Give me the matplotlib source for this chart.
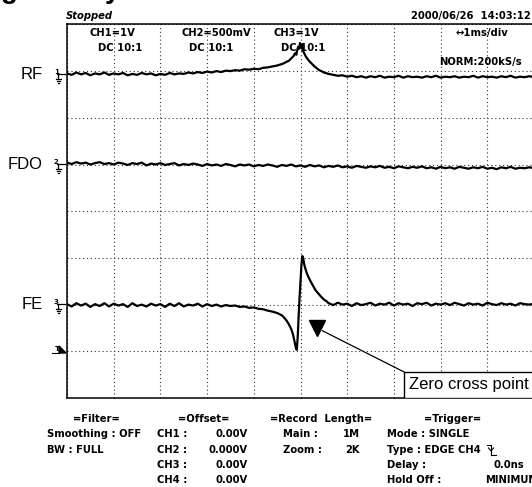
import matplotlib.pyplot as plt
from matplotlib.patches import Rectangle, Polygon
from matplotlib.lines import Line2D

# --- traces (time in ms, level in screen divisions; screen is 10 x 8 div) ---
rf_t = [0.0, 0.1, 0.2, 0.3, 0.4, 0.5, 0.6, 0.7, 0.8, 0.9,
        1.0, 1.1, 1.2, 1.3, 1.4, 1.5, 1.6, 1.7, 1.8, 1.9,
        2.0, 2.1, 2.2, 2.3, 2.4, 2.5, 2.6, 2.7, 2.8, 2.9,
        3.0, 3.1, 3.2, 3.3, 3.4, 3.5,
        3.6, 3.7, 3.8, 3.9, 4.0, 4.1, 4.2, 4.3, 4.4, 4.5, 4.6,
        4.65, 4.7, 4.75, 4.8, 4.85, 4.88, 4.91, 4.93, 4.95, 4.97, 4.99, 5.01,
        5.03, 5.05, 5.08, 5.11, 5.15, 5.2, 5.25, 5.3, 5.35, 5.4, 5.45, 5.5,
        5.6, 5.7, 5.8, 5.9, 6.0, 6.1, 6.2, 6.3, 6.4, 6.5,
        6.6, 6.7, 6.8, 6.9, 7.0, 7.1, 7.2, 7.3, 7.4, 7.5,
        7.6, 7.7, 7.8, 7.9, 8.0, 8.1, 8.2, 8.3, 8.4, 8.5,
        8.6, 8.7, 8.8, 8.9, 9.0, 9.1, 9.2, 9.3, 9.4, 9.5,
        9.6, 9.7, 9.8, 9.9, 10.0]
rf_v = [6.95, 6.92, 6.97, 6.93, 6.96, 6.91, 6.95, 6.93, 6.97, 6.92,
        6.95, 6.93, 6.96, 6.91, 6.94, 6.92, 6.96, 6.93, 6.95, 6.91,
        6.94, 6.92, 6.96, 6.93, 6.95, 6.94, 6.97, 6.95, 6.98, 6.96,
        6.99, 6.97, 7.00, 6.98, 7.01, 7.00,
        7.02, 7.01, 7.04, 7.03, 7.05, 7.04, 7.07, 7.08, 7.10, 7.12, 7.15,
        7.17, 7.20, 7.22, 7.27, 7.32, 7.38, 7.35, 7.45, 7.52, 7.48, 7.60, 7.50,
        7.56, 7.44, 7.38, 7.32, 7.26, 7.20, 7.15, 7.10, 7.06, 7.02, 7.00, 6.97,
        6.94, 6.92, 6.90, 6.91, 6.88, 6.90, 6.87, 6.89, 6.86, 6.89,
        6.87, 6.90, 6.86, 6.88, 6.87, 6.90, 6.86, 6.89, 6.87, 6.88,
        6.86, 6.89, 6.87, 6.90, 6.86, 6.88, 6.87, 6.89, 6.86, 6.88,
        6.87, 6.90, 6.86, 6.89, 6.87, 6.88, 6.86, 6.89, 6.87, 6.90,
        6.86, 6.88, 6.87, 6.89, 6.87]

fdo_t = [i / 10 for i in range(101)]
fdo_v = [5.04, 5.01, 5.05, 5.02, 5.04, 5.00, 5.03, 5.05, 5.01, 5.03,
         5.00, 5.04, 5.02, 4.99, 5.03, 5.01, 5.04, 4.98, 5.02, 5.00,
         5.03, 4.99, 5.01, 5.03, 4.98, 5.01, 4.99, 5.02, 5.00, 4.97,
         5.01, 4.98, 5.00, 4.97, 5.01, 4.99, 4.96, 5.00, 4.98, 5.00,
         4.96, 4.99, 4.97, 5.00, 4.98, 4.95, 4.99, 4.97, 5.00, 4.96,
         4.98, 4.95, 4.99, 4.96, 4.98, 4.94, 4.97, 4.95, 4.98, 4.94,
         4.96, 4.93, 4.97, 4.95, 4.93, 4.96, 4.94, 4.97, 4.93, 4.95,
         4.92, 4.96, 4.94, 4.92, 4.95, 4.93, 4.96, 4.92, 4.94, 4.91,
         4.95, 4.92, 4.94, 4.91, 4.95, 4.93, 4.91, 4.94, 4.92, 4.95,
         4.91, 4.93, 4.90, 4.94, 4.92, 4.95, 4.91, 4.93, 4.92, 4.94,
         4.92]

fe_t = [0.0, 0.1, 0.2, 0.3, 0.4, 0.5, 0.6, 0.7, 0.8, 0.9,
        1.0, 1.1, 1.2, 1.3, 1.4, 1.5, 1.6, 1.7, 1.8, 1.9,
        2.0, 2.1, 2.2, 2.3, 2.4, 2.5, 2.6, 2.7, 2.8, 2.9,
        3.0, 3.1, 3.2, 3.3, 3.4, 3.5,
        3.6, 3.7, 3.8, 3.9, 4.0, 4.1, 4.2, 4.3, 4.4, 4.5, 4.6,
        4.65, 4.7, 4.75, 4.8, 4.84, 4.87, 4.9, 4.92, 4.94, 4.96, 4.98, 5.0,
        5.02, 5.04, 5.06, 5.08, 5.11, 5.14, 5.18, 5.22, 5.27, 5.32, 5.38, 5.44,
        5.5, 5.56,
        5.6, 5.7, 5.8, 5.9, 6.0, 6.1, 6.2, 6.3, 6.4, 6.5,
        6.6, 6.7, 6.8, 6.9, 7.0, 7.1, 7.2, 7.3, 7.4, 7.5,
        7.6, 7.7, 7.8, 7.9, 8.0, 8.1, 8.2, 8.3, 8.4, 8.5,
        8.6, 8.7, 8.8, 8.9, 9.0, 9.1, 9.2, 9.3, 9.4, 9.5,
        9.6, 9.7, 9.8, 9.9, 10.0]
fe_v = [2.01, 1.96, 2.03, 1.98, 2.02, 1.95, 2.01, 1.97, 2.03, 1.96,
        2.02, 1.98, 2.01, 1.95, 2.03, 1.97, 2.00, 1.96, 2.02, 1.98,
        2.01, 1.95, 2.02, 1.97, 2.03, 1.96, 2.00, 1.98, 2.02, 1.96,
        2.01, 1.97, 2.00, 1.96, 1.99, 1.97,
        1.98, 1.95, 1.96, 1.93, 1.94, 1.91, 1.90, 1.87, 1.85, 1.82, 1.77,
        1.72, 1.66, 1.58, 1.48, 1.36, 1.22, 1.08, 1.03, 1.30, 1.75, 2.15, 2.50,
        2.85, 3.04, 2.98, 2.86, 2.75, 2.66, 2.57, 2.49, 2.40, 2.31, 2.24, 2.17,
        2.11, 2.07,
        2.03, 1.99, 2.04, 2.00, 2.02, 1.97, 2.03, 1.99, 2.01, 2.04,
        1.98, 2.02, 2.00, 2.04, 1.98, 2.03, 2.00, 2.02, 1.97, 2.03,
        2.01, 2.04, 1.98, 2.02, 2.00, 2.03, 1.99, 2.04, 2.01, 1.98,
        2.03, 2.00, 2.02, 1.98, 2.04, 2.01, 1.99, 2.03, 2.00, 2.02,
        1.98, 2.03, 2.01, 2.00, 2.02]

ch_names = ["RF", "FDO", "FE"]
ch_levels = [6.93, 5.0, 2.01]

# scope panel texts
ch_head = ["CH1=1V", "CH2=500mV", "CH3=1V"]
ch_cpl = ["DC 10:1", "DC 10:1", "DC 10:1"]
offset_ch = ["CH1 :", "CH2 :", "CH3 :", "CH4 :"]
offset_val = ["0.00V", "0.000V", "0.00V", "0.00V"]

W, H = 532, 487
fig = plt.figure(figsize=(W / 100, H / 100), dpi=100)


def fx(px):
    return px / W


def fy(py):
    return 1 - py / H


def ftext(px, py, s, ha="left", size=7.2, **kw):
    kw.setdefault("weight", "bold")
    fig.text(fx(px), fy(py), s, ha=ha, va="center", fontsize=size,
             family="DejaVu Sans", color="black", **kw)


def fline(xs, ys, lw=0.9):
    fig.add_artist(Line2D([fx(x) for x in xs], [fy(y) for y in ys],
                          transform=fig.transFigure, color="black", lw=lw))


# cut-off caption letters at the very top edge
for px, ch in [(9, "g"), (113, "y")]:
    fig.text(fx(px), fy(-1.5), ch, ha="center", va="baseline", fontsize=20,
             weight="bold", family="Liberation Sans")

# screen area: 10 x 8 divisions
ax = fig.add_axes([fx(67), fy(398), (534 - 67) / W, (398 - 24.4) / H])
ax.set_xlim(0, 10)
ax.set_ylim(0, 8)
ax.set_xticks(range(11))
ax.set_yticks(range(9))
ax.tick_params(length=0, labelbottom=False, labelleft=False)
ax.grid(True, ls=(0, (1, 2.5)), color="#333333", lw=0.8)
for sp in ax.spines.values():
    sp.set_linewidth(1.1)

ax.plot(rf_t, rf_v, color="black", lw=1.6)
ax.plot(fdo_t, fdo_v, color="black", lw=1.6)
ax.plot(fe_t, fe_v, color="black", lw=1.6)

# zero cross annotation
ax.plot([5.35], [1.50], marker="v", ms=11, color="black", clip_on=False)
ax.plot([5.47, 7.22], [1.44, 0.556], color="black", lw=0.9)
ax.add_patch(Rectangle((7.22, 0), 3.5, 0.556, facecolor="white",
                       edgecolor="black", lw=1.0, zorder=5))
ax.text(7.33, 0.29, "Zero cross point", fontsize=12, family="Liberation Sans",
        va="center", ha="left", zorder=6)

# channel labels and ground markers
for i, (name, lev) in enumerate(zip(ch_names, ch_levels)):
    py = 398 - lev * 46.75
    fig.text(fx(43), fy(py), name, ha="right", va="center", fontsize=12,
             family="Liberation Sans")
    ftext(54, py - 2, str(i + 1), size=5)
    fline([57, 65], [py, py])
    fline([58, 58], [py, py + 5])
    fline([55.5, 60.5], [py + 5, py + 5])
    fline([56.5, 59.5], [py + 7, py + 7])
    fline([57.5, 58.5], [py + 9, py + 9])

# trigger level marker
ftext(55, 349, "T", size=5)
fline([52, 59], [353, 353], lw=0.8)
fig.add_artist(Polygon([(fx(59), fy(346)), (fx(66), fy(353)), (fx(59), fy(353))],
                       closed=True, transform=fig.transFigure, color="black"))

# header
ftext(66, 16, "Stopped", style="italic")
ftext(531, 16, "2000/06/26  14:03:12", ha="right")
for x0, head, cpl in zip([90, 181, 273], ch_head, ch_cpl):
    ftext(x0, 33, head)
    ftext(x0 + 8, 48, cpl)
ftext(456, 33, "\u21941ms/div")
ftext(439, 62, "NORM:200kS/s")

# footer
rows = [419, 434, 450, 465, 480]
ftext(96, rows[0], "=Filter=", ha="center")
ftext(47, rows[1], "Smoothing : OFF")
ftext(47, rows[2], "BW : FULL")

ftext(204, rows[0], "=Offset=", ha="center")
for r, c, v in zip(rows[1:], offset_ch, offset_val):
    ftext(157, r, c)
    ftext(248, r, v, ha="right")

ftext(321, rows[0], "=Record  Length=", ha="center")
ftext(283, rows[1], "Main :")
ftext(360, rows[1], "1M", ha="right")
ftext(283, rows[2], "Zoom :")
ftext(360, rows[2], "2K", ha="right")

ftext(453, rows[0], "=Trigger=", ha="center")
ftext(387, rows[1], "Mode : SINGLE")
ftext(387, rows[2], "Type : EDGE CH4")
fline([487, 491], [445, 445], lw=0.8)
fline([491, 491], [445, 455], lw=0.8)
fline([491, 496], [455, 455], lw=0.8)
fline([488.5, 491, 493.5], [448, 451, 448], lw=0.8)
ftext(387, rows[3], "Delay :")
ftext(493, rows[3], "0.0ns")
ftext(387, rows[4], "Hold Off :")
ftext(485, rows[4], "MINIMUM")

fig.savefig("out.png", dpi=100)
